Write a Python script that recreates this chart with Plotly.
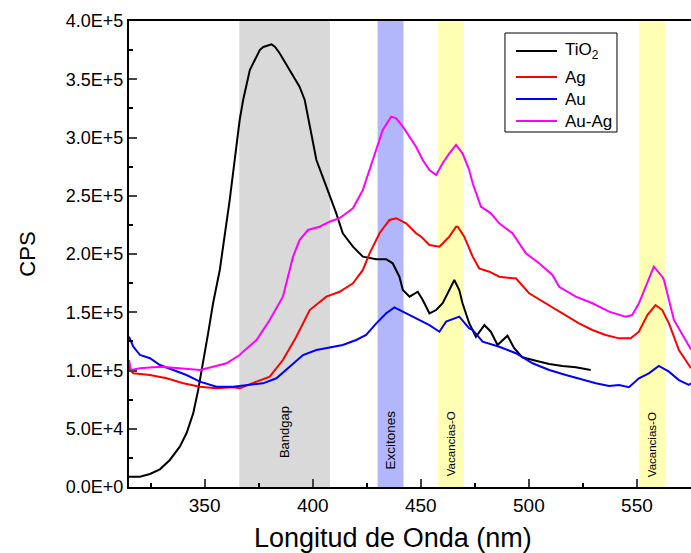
import plotly.graph_objects as go

# ---- data ----
tio2_x = [315, 320.1, 324.7, 329.3, 333.9, 338.5, 341.6, 344.7, 347.0, 349.3, 351.6, 353.9, 356.2, 357.0,
          361.6, 364.7, 366.2, 367.8, 370.9, 375.5, 377.1, 378.6, 380.9, 382.5, 384.7, 389.3, 393.9, 396.3, 398.6,
          401.7, 406.3, 410.9, 413.9, 418.6, 423.2, 429.4, 434.0, 437.0, 440.1, 441.7, 444.8, 448.6,
          450.9, 454.0, 457.1, 460.1, 463.2, 465.5, 467.8, 469.3, 472.4, 475.5, 479.4, 482.4, 485.5,
          490.1, 493.2, 497.0, 503.2, 509.4, 515.5, 521.7, 528.6]
tio2_y = [8800, 8800, 11200, 15200, 23200, 34600, 46100, 63200, 83300, 106200, 131900, 157700, 180500, 186300,
          246400, 290000, 315000, 332200, 357900, 375100, 377700, 378600, 380000, 378000, 372300, 357900, 343600, 332200, 309300,
          280700, 257800, 234900, 217800, 206300, 197700, 195500, 195500, 192000, 180500, 169100, 163400, 167600,
          160500, 149100, 151900, 157700, 169100, 177700, 169100, 157700, 140500, 129000, 139000, 133300, 121900,
          129900, 119100, 111300, 108400, 105600, 103900, 102700, 100400]

ag_x = [315, 315.4, 317, 324.7, 332.4, 340.1, 347.8, 355.5, 363.2, 366.2, 374.0, 380.1, 386.2, 392.4, 398.6,
        406.3, 412.4, 418.6, 423.2, 426.3, 430.9, 435.5, 438.6, 443.2, 447.8, 450.1, 454.0, 458.6, 463.2,
        466.3, 467.1, 470.1, 474.0, 477.0, 481.7, 486.3, 492.4, 494.0, 500.1, 507.8, 515.5, 523.2, 529.4,
        535.5, 541.7, 547.1, 550.9, 554.8, 558.6, 561.7, 564.8, 569.4, 574.0, 575]
ag_y = [103000, 100400, 97600, 96100, 93300, 89000, 86100, 84700, 85600, 84700, 90400, 94700, 109000, 129000, 151900,
        163400, 167600, 174900, 186300, 200600, 217800, 229200, 230700, 226300, 217800, 214900, 207700, 206300, 214900,
        223400, 223400, 214900, 197700, 187700, 184800, 180500, 179100, 179100, 166300, 157700, 149100, 140500, 134800,
        130500, 127600, 127600, 133300, 147600, 156200, 151900, 140500, 117600, 104700, 102000]

au_x = [315, 317, 320.1, 324.7, 329.3, 335.5, 341.6, 347.8, 355.5, 363.2, 369.3, 377.0, 383.2, 389.3, 395.5,
        401.7, 407.8, 413.9, 420.1, 424.7, 429.4, 434.0, 437.8, 441.7, 445.5, 449.4, 454.0, 458.6, 461.7,
        467.8, 472.4, 474.0, 478.6, 486.3, 494.0, 501.7, 509.4, 517.1, 524.8, 531.0, 537.1, 541.7, 546.3,
        550.9, 555.5, 560.1, 564.8, 569.4, 574.0, 575]
au_y = [129000, 120400, 113300, 110500, 104700, 100400, 96100, 90400, 86100, 86100, 87600, 89000, 93300, 103300, 113300,
        117600, 119900, 121900, 126200, 130500, 140500, 149100, 154200, 150500, 147600, 143400, 139000, 133300, 141900,
        146200, 136200, 134800, 124700, 120400, 114800, 106200, 100400, 96100, 91800, 89000, 86700, 87600, 85600,
        93300, 97600, 103900, 99000, 91800, 87600, 89000]

auag_x = [315, 315.8, 320.1, 329.3, 338.5, 347.8, 353.9, 360.1, 366.2, 367.8, 374.0, 380.1, 386.2, 390.9,
          393.9, 397.8, 403.2, 407.8, 412.4, 418.6, 423.2, 427.8, 432.4, 436.3, 438.6, 441.7, 444.8, 447.8,
          450.9, 454.0, 457.1, 460.1, 463.2, 466.3, 469.3, 472.4, 474.0, 477.8, 482.4, 486.3, 492.4, 498.6,
          504.7, 510.9, 514.0, 521.7, 529.4, 537.1, 544.7, 547.8, 550.9, 554.0, 557.8, 561.7, 562.5, 567.1,
          574.0, 575]
auag_y = [109000, 100400, 101900, 103300, 101900, 100400, 103300, 106200, 113300, 116200, 126200, 143400, 163400, 197700,
          212000, 220600, 223400, 227700, 230700, 239200, 255000, 280700, 306500, 317900, 316500, 309300, 300700, 292100,
          280700, 272100, 267800, 277900, 286400, 293600, 286400, 272100, 260700, 240600, 234900, 226300, 217800, 200600,
          192000, 182000, 171900, 163400, 157700, 150500, 146200, 147600, 157700, 171900, 189100, 180500, 177700, 143400,
          120400, 118000]

series_names = ["TiO<sub>2</sub>", "Ag", "Au", "Au-Ag"]
series_colors = ["#000000", "#ff0000", "#0000ff", "#ff00ff"]

bands = [(366, 408, "#d9d9d9", "Bandgap"),
         (430, 442, "#b2b6fb", "Excitones"),
         (458, 470, "#ffffb4", "Vacancias-O"),
         (551, 563, "#ffffb4", "Vacancias-O")]
band_label_y = [0.117, 0.101, 0.092, 0.090]
band_label_size = [13, 13.5, 11.5, 11.5]

y_ticks = [0, 50000, 100000, 150000, 200000, 250000, 300000, 350000, 400000]
y_ticktext = ["0.0E+0", "5.0E+4", "1.0E+5", "1.5E+5", "2.0E+5", "2.5E+5", "3.0E+5", "3.5E+5", "4.0E+5"]
x_ticks = [350, 400, 450, 500, 550]
x_title = "Longitud de Onda (nm)"
y_title = "CPS"

FONT = "Arial, Liberation Sans, sans-serif"

fig = go.Figure()
for xs, ys, name, col in zip([tio2_x, ag_x, au_x, auag_x], [tio2_y, ag_y, au_y, auag_y],
                             series_names, series_colors):
    fig.add_trace(go.Scatter(x=xs, y=ys, mode="lines", name=name,
                             line=dict(color=col, width=2), showlegend=False))

for (x0, x1, col, label), ly, fs in zip(bands, band_label_y, band_label_size):
    fig.add_shape(type="rect", xref="x", yref="paper", x0=x0, x1=x1, y0=0, y1=1,
                  fillcolor=col, line=dict(width=0), layer="below")
    fig.add_annotation(x=(x0 + x1) / 2, y=ly, xref="x", yref="paper", text=label,
                       textangle=-90, showarrow=False, xanchor="center", yanchor="middle",
                       font=dict(family=FONT, size=fs, color="#000000"))

# ---- legend box drawn in paper coordinates ----
leg_x0, leg_x1, leg_y0, leg_y1 = 0.669, 0.8683, 0.7618, 0.9742
leg_line_x0, leg_line_x1, leg_text_x = 0.6886, 0.7616, 0.7722
leg_rows = [0.9356, 0.8798, 0.8326, 0.7854]
fig.add_shape(type="rect", xref="paper", yref="paper", x0=leg_x0, x1=leg_x1, y0=leg_y0, y1=leg_y1,
              fillcolor="white", line=dict(color="#000000", width=1))
for name, col, ry in zip(series_names, series_colors, leg_rows):
    fig.add_shape(type="line", xref="paper", yref="paper", x0=leg_line_x0, x1=leg_line_x1,
                  y0=ry, y1=ry, line=dict(color=col, width=2))
    fig.add_annotation(x=leg_text_x, y=ry, xref="paper", yref="paper", text=name,
                       showarrow=False, xanchor="left", yanchor="middle",
                       font=dict(family=FONT, size=17, color="#000000"))

# x-axis title (placed as annotation so it can sit slightly left of centre as in the reference)
fig.add_annotation(x=0.47, y=-0.109, xref="paper", yref="paper", text=x_title,
                   showarrow=False, xanchor="center", yanchor="middle",
                   font=dict(family=FONT, size=27, color="#000000"))

fig.update_layout(
    width=691, height=553,
    margin=dict(l=129, r=0, t=21, b=66),
    plot_bgcolor="white", paper_bgcolor="white",
    font=dict(family=FONT, color="#000000"),
    showlegend=False,
    xaxis=dict(range=[315, 575], tickvals=x_ticks, ticks="inside", ticklen=8, tickwidth=1.5,
               showline=True, linecolor="#000000", linewidth=2, mirror=True,
               showgrid=False, zeroline=False, automargin=False,
               tickfont=dict(family=FONT, size=19),
               minor=dict(dtick=25, tick0=325, ticks="inside", ticklen=4, tickcolor="#000000")),
    yaxis=dict(range=[0, 400000], tickvals=y_ticks, ticktext=y_ticktext, ticks="inside", ticklen=8,
               tickwidth=1.5, showline=True, linecolor="#000000", linewidth=2,
               showgrid=False, zeroline=False, automargin=False,
               tickfont=dict(family=FONT, size=18),
               minor=dict(dtick=25000, tick0=0, ticks="inside", ticklen=4, tickcolor="#000000"),
               title=dict(text=y_title, font=dict(family=FONT, size=22), standoff=24)),
)

fig.write_html("out.html")
